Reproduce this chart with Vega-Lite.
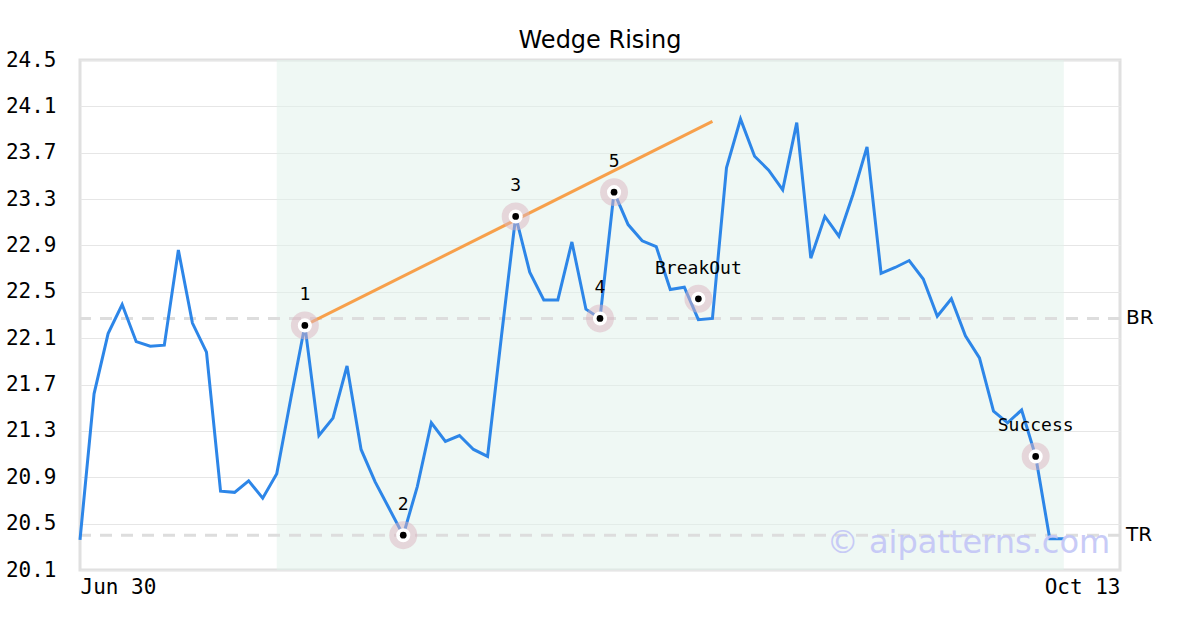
{
  "$schema": "https://vega.github.io/schema/vega-lite/v6.json",
  "width": 1040,
  "height": 510,
  "autosize": {"type": "none"},
  "padding": {"left": 80, "top": 60, "right": 80, "bottom": 60},
  "background": "white",
  "title": {"text": "Wedge Rising", "font": "DejaVu Sans", "fontSize": 24, "fontWeight": "normal", "color": "black", "anchor": "middle", "offset": -4},
  "config": {
    "view": {"stroke": "#e0e0e0", "strokeWidth": 3},
    "axis": {"labelFont": "DejaVu Sans Mono", "labelFontSize": 21, "labelColor": "black", "ticks": false, "domain": false, "title": null}
  },
  "datasets": {
    "price": [
      {"i": 0, "v": 20.36}, {"i": 1, "v": 21.62}, {"i": 2, "v": 22.14}, {"i": 3, "v": 22.39}, {"i": 4, "v": 22.07},
      {"i": 5, "v": 22.03}, {"i": 6, "v": 22.04}, {"i": 7, "v": 22.86}, {"i": 8, "v": 22.23}, {"i": 9, "v": 21.98},
      {"i": 10, "v": 20.78}, {"i": 11, "v": 20.77}, {"i": 12, "v": 20.87}, {"i": 13, "v": 20.72}, {"i": 14, "v": 20.93},
      {"i": 15, "v": 21.58}, {"i": 16, "v": 22.21}, {"i": 17, "v": 21.26}, {"i": 18, "v": 21.41}, {"i": 19, "v": 21.86},
      {"i": 20, "v": 21.14}, {"i": 21, "v": 20.86}, {"i": 22, "v": 20.63}, {"i": 23, "v": 20.40}, {"i": 24, "v": 20.82},
      {"i": 25, "v": 21.37}, {"i": 26, "v": 21.21}, {"i": 27, "v": 21.26}, {"i": 28, "v": 21.14}, {"i": 29, "v": 21.08},
      {"i": 30, "v": 22.13}, {"i": 31, "v": 23.15}, {"i": 32, "v": 22.67}, {"i": 33, "v": 22.43}, {"i": 34, "v": 22.43},
      {"i": 35, "v": 22.93}, {"i": 36, "v": 22.35}, {"i": 37, "v": 22.27}, {"i": 38, "v": 23.36}, {"i": 39, "v": 23.08},
      {"i": 40, "v": 22.94}, {"i": 41, "v": 22.89}, {"i": 42, "v": 22.52}, {"i": 43, "v": 22.54}, {"i": 44, "v": 22.26},
      {"i": 45, "v": 22.27}, {"i": 46, "v": 23.57}, {"i": 47, "v": 23.99}, {"i": 48, "v": 23.67}, {"i": 49, "v": 23.55},
      {"i": 50, "v": 23.38}, {"i": 51, "v": 23.96}, {"i": 52, "v": 22.79}, {"i": 53, "v": 23.15}, {"i": 54, "v": 22.98},
      {"i": 55, "v": 23.34}, {"i": 56, "v": 23.75}, {"i": 57, "v": 22.66}, {"i": 58, "v": 22.71}, {"i": 59, "v": 22.77},
      {"i": 60, "v": 22.61}, {"i": 61, "v": 22.29}, {"i": 62, "v": 22.44}, {"i": 63, "v": 22.12}, {"i": 64, "v": 21.93},
      {"i": 65, "v": 21.47}, {"i": 66, "v": 21.37}, {"i": 67, "v": 21.48}, {"i": 68, "v": 21.08}, {"i": 69, "v": 20.37},
      {"i": 70, "v": 20.37}
    ],
    "points": [
      {"i": 16, "v": 22.21, "label": "1"},
      {"i": 23, "v": 20.40, "label": "2"},
      {"i": 31, "v": 23.15, "label": "3"},
      {"i": 37, "v": 22.27, "label": "4"},
      {"i": 38, "v": 23.36, "label": "5"},
      {"i": 44, "v": 22.44, "label": "BreakOut"},
      {"i": 68, "v": 21.08, "label": "Success"}
    ],
    "trend": [{"i": 16, "v": 22.21}, {"i": 45, "v": 23.97}],
    "levels": [{"v": 22.27, "name": "BR"}, {"v": 20.40, "name": "TR"}],
    "zone": [{"start": 14, "end": 70}]
  },
  "layer": [
    {
      "data": {"name": "zone"},
      "mark": {"type": "rect", "color": "#dff1e9", "opacity": 0.5},
      "encoding": {
        "x": {"field": "start", "type": "quantitative", "scale": {"domain": [0, 74], "nice": false, "zero": false},
              "axis": {"values": [0, 74], "labelExpr": "datum.value == 0 ? 'Jun 30' : 'Oct 13'", "labelFlush": true, "grid": false, "labelPadding": 6}},
        "x2": {"field": "end"},
        "y": {"datum": 24.5, "type": "quantitative", "scale": {"domain": [20.1, 24.5], "nice": false, "zero": false},
              "axis": {"values": [20.1, 20.5, 20.9, 21.3, 21.7, 22.1, 22.5, 22.9, 23.3, 23.7, 24.1, 24.5], "format": ".1f", "grid": true, "gridColor": "#e6e6e6", "gridWidth": 1, "labelPadding": 24}},
        "y2": {"datum": 20.1}
      }
    },
    {
      "data": {"name": "levels"},
      "mark": {"type": "rule", "color": "#dddddd", "strokeWidth": 3, "strokeDash": [12, 9]},
      "encoding": {"y": {"field": "v", "type": "quantitative"}}
    },
    {
      "data": {"name": "levels"},
      "mark": {"type": "text", "font": "DejaVu Sans", "fontSize": 20, "color": "black", "align": "left", "baseline": "middle", "dx": 6},
      "encoding": {"x": {"datum": 74, "type": "quantitative"}, "y": {"field": "v", "type": "quantitative"}, "text": {"field": "name"}}
    },
    {
      "data": {"name": "price"},
      "mark": {"type": "line", "color": "#2d86e8", "strokeWidth": 3},
      "encoding": {"x": {"field": "i", "type": "quantitative"}, "y": {"field": "v", "type": "quantitative"}}
    },
    {
      "data": {"name": "trend"},
      "mark": {"type": "line", "color": "#f7a04b", "strokeWidth": 3},
      "encoding": {"x": {"field": "i", "type": "quantitative"}, "y": {"field": "v", "type": "quantitative"}}
    },
    {
      "data": {"name": "points"},
      "mark": {"type": "circle", "color": "#dcb3bf", "opacity": 0.5, "size": 780},
      "encoding": {"x": {"field": "i", "type": "quantitative"}, "y": {"field": "v", "type": "quantitative"}}
    },
    {
      "data": {"name": "points"},
      "mark": {"type": "circle", "color": "white", "opacity": 1, "size": 200},
      "encoding": {"x": {"field": "i", "type": "quantitative"}, "y": {"field": "v", "type": "quantitative"}}
    },
    {
      "data": {"name": "points"},
      "mark": {"type": "circle", "color": "black", "opacity": 1, "size": 45},
      "encoding": {"x": {"field": "i", "type": "quantitative"}, "y": {"field": "v", "type": "quantitative"}}
    },
    {
      "data": {"name": "points"},
      "mark": {"type": "text", "font": "DejaVu Sans Mono", "fontSize": 18, "color": "black", "align": "center", "baseline": "middle", "dy": -30},
      "encoding": {"x": {"field": "i", "type": "quantitative"}, "y": {"field": "v", "type": "quantitative"}, "text": {"field": "label"}}
    },
    {
      "data": {"values": [{"t": "© aipatterns.com"}]},
      "mark": {"type": "text", "font": "DejaVu Sans", "fontSize": 32, "color": "#c3c6f7", "opacity": 0.9, "align": "right", "baseline": "alphabetic"},
      "encoding": {"x": {"datum": 73.3, "type": "quantitative"}, "y": {"datum": 20.25, "type": "quantitative"}, "text": {"field": "t"}}
    }
  ]
}
